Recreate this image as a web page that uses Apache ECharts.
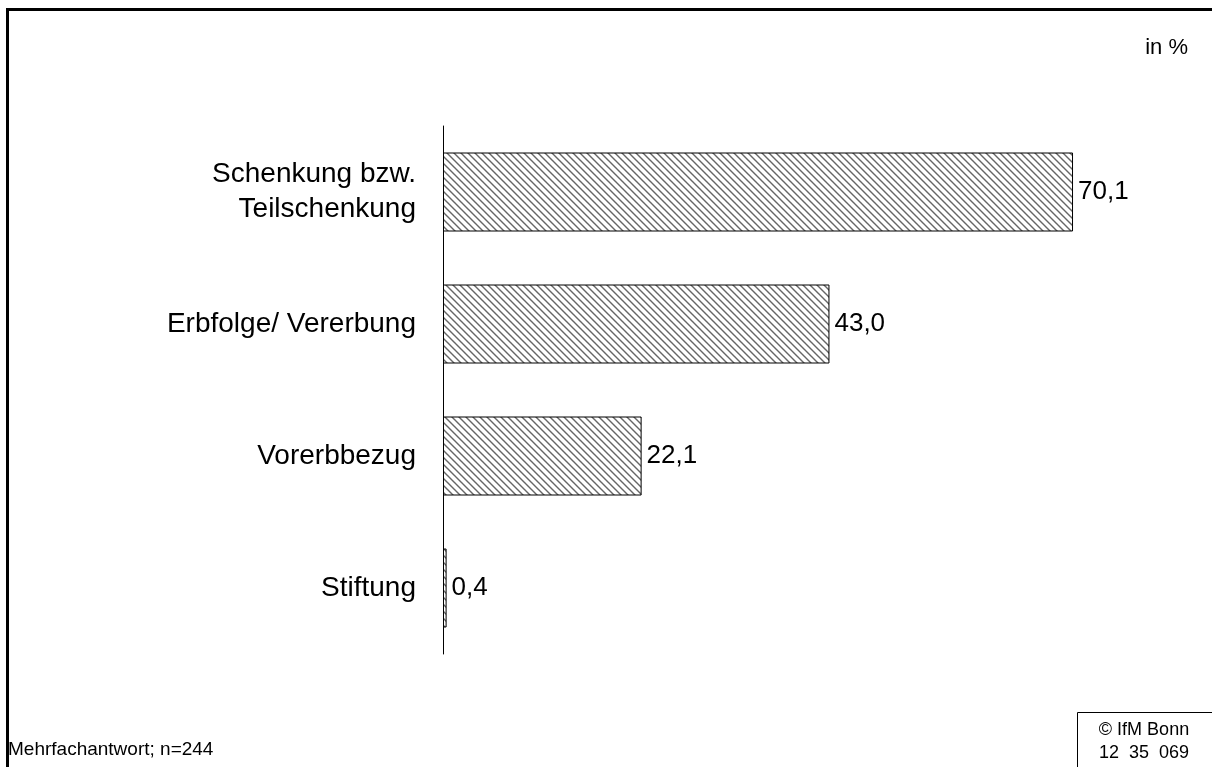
<!DOCTYPE html>
<html>
<head>
<meta charset="utf-8">
<script src="https://cdn.jsdelivr.net/npm/echarts@6/dist/echarts.min.js"></script>
<style>
  html, body { margin: 0; padding: 0; background: #fff; }
  #main { width: 1212px; height: 767px; }
</style>
</head>
<body>
<div id="main"></div>
<script>
// Kategorien und Werte (in %)
var categories = ['Schenkung bzw.\nTeilschenkung', 'Erbfolge/ Vererbung', 'Vorerbbezug', 'Stiftung'];
var values = [70.1, 43.0, 22.1, 0.4];

var fontFam = '"Liberation Sans", Arial, sans-serif';

// Schraffur-Muster (diagonal)
function makeHatch() {
    var n = 7;
    var c = document.createElement('canvas');
    c.width = n;
    c.height = n;
    var ctx = c.getContext('2d');
    ctx.fillStyle = '#ffffff';
    ctx.fillRect(0, 0, n, n);
    ctx.strokeStyle = '#666666';
    ctx.lineWidth = 1.4;
    ctx.beginPath();
    ctx.moveTo(-2, -2); ctx.lineTo(n + 2, n + 2);
    ctx.moveTo(-2, n - 2); ctx.lineTo(2, n + 2);
    ctx.moveTo(n - 2, -2); ctx.lineTo(n + 2, 2);
    ctx.stroke();
    return c;
}

var chart = echarts.init(document.getElementById('main'), null, { renderer: 'canvas' });

var option = {
    backgroundColor: '#ffffff',
    animation: false,
    grid: {
        left: 443,
        right: 50,
        top: 126,
        bottom: 113
    },
    xAxis: {
        type: 'value',
        min: 0,
        max: 80,
        show: false
    },
    yAxis: {
        type: 'category',
        data: categories,
        inverse: true,
        axisLine: { show: true, lineStyle: { color: '#000', width: 1 } },
        axisTick: { show: false },
        splitLine: { show: false },
        axisLabel: {
            margin: 27,
            color: '#000',
            fontSize: 28,
            lineHeight: 35,
            align: 'right',
            fontFamily: fontFam
        }
    },
    series: [{
        type: 'bar',
        data: values,
        barWidth: 79,
        itemStyle: {
            color: { image: makeHatch(), repeat: 'repeat' },
            borderColor: '#000',
            borderWidth: 1
        },
        label: {
            show: true,
            position: 'right',
            distance: 5,
            color: '#000',
            fontSize: 26,
            fontFamily: fontFam,
            formatter: function (p) {
                return p.value.toFixed(1).replace('.', ',');
            }
        }
    }],
    graphic: [
        // Rahmen
        {
            type: 'rect',
            shape: { x: 7.5, y: 9.5, width: 1400, height: 1000 },
            style: { fill: null, stroke: '#000', lineWidth: 3 },
            silent: true
        },
        {
            type: 'text',
            right: 24,
            top: 37,
            style: { text: 'in %', fontSize: 22, fill: '#000', fontFamily: fontFam }
        },
        {
            type: 'text',
            left: 8,
            top: 740,
            style: { text: 'Mehrfachantwort; n=244', fontSize: 19, fill: '#000', fontFamily: fontFam }
        },
        // Kasten unten rechts
        {
            type: 'rect',
            shape: { x: 1077.5, y: 712.5, width: 200, height: 100 },
            style: { fill: null, stroke: '#000', lineWidth: 1 },
            silent: true
        },
        {
            type: 'text',
            x: 1144,
            y: 719,
            style: {
                text: '© IfM Bonn\n12  35  069',
                fontSize: 18,
                lineHeight: 23,
                align: 'center',
                fill: '#000',
                fontFamily: fontFam
            }
        }
    ]
};

chart.setOption(option);
</script>
</body>
</html>
